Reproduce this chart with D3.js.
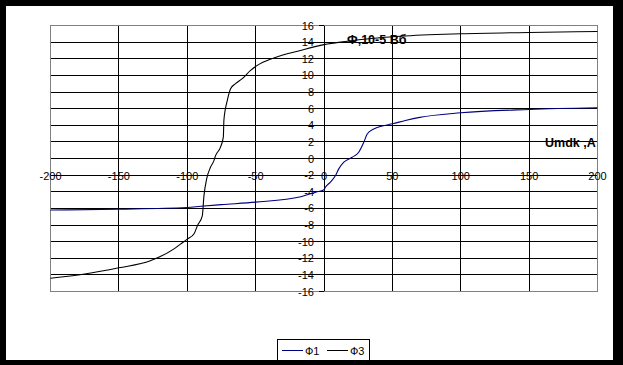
<!DOCTYPE html>
<html>
<head>
<meta charset="utf-8">
<script src="https://cdn.jsdelivr.net/npm/d3@7"></script>
<style>
    body { margin: 0; background: #000; }
    svg text { font-family: "Liberation Sans", Arial, sans-serif; }
</style>
</head>
<body>
<svg id="chart"></svg>
<script>
// Ф1 (синяя) и Ф3 (чёрная)
const uPhi1 = [-200, -150, -100, -90, -75, -50, -17, -10, -6, 0, 1, 4.7, 8.4, 10.8, 14.5, 20.6, 25.4, 29.1, 31.6, 36.4, 42.5, 50, 59.5, 70, 100, 150, 200];
const phi1 = [-6.2, -6.1, -5.9, -5.75, -5.55, -5.25, -4.6, -4.25, -4.05, -3.75, -3.45, -2.85, -2.05, -1.25, -0.45, 0.15, 0.75, 1.95, 2.95, 3.55, 3.9, 4.17, 4.57, 4.95, 5.5, 5.9, 6.1];

const uPhi3 = [-200, -175, -150, -127, -110, -105, -100, -95, -92.5, -89, -87.8, -85.8, -83, -80.5, -79.3, -75.6, -73.6, -73.2, -70.7, -68.3, -64.7, -59.8, -53.7, -48.8, -36.7, -17.2, 0, 17, 56, 100, 150, 200];
const phi3 = [-14.4, -13.9, -13.15, -12.3, -10.9, -10.3, -9.7, -9.05, -8.05, -6.9, -4.5, -2.45, -1.05, -0.25, 0.35, 1.4, 2.6, 4.6, 7.0, 8.4, 9.0, 9.6, 10.6, 11.2, 12.1, 13.0, 13.7, 14.1, 14.7, 15.0, 15.16, 15.28];

const xTicks = [-200, -150, -100, -50, 0, 50, 100, 150, 200];
const yTicks = [-16, -14, -12, -10, -8, -6, -4, -2, 0, 2, 4, 6, 8, 10, 12, 14, 16];

const seriesNames = ["Ф1", "Ф3"];
const seriesColors = ["#000080", "#000000"];

const wsvg = 623;
const hsvg = 365;

const svg = d3.select("#chart")
    .attr("width", wsvg)
    .attr("height", hsvg);

// чёрная рамка и белое поле
svg.append("rect").attr("width", wsvg).attr("height", hsvg).attr("fill", "#000");
svg.append("rect").attr("x", 6).attr("y", 6).attr("width", 607).attr("height", 354).attr("fill", "#fff");

const xScale = d3.scaleLinear([-200, 200], [50.5, 597.5]);
const yScale = d3.scaleLinear([-16, 16], [291.5, 25.5]);

// сетка
svg.append("g").selectAll("line")
    .data(yTicks)
    .join("line")
    .attr("x1", xScale(-200)).attr("x2", xScale(200))
    .attr("y1", d => Math.round(yScale(d) - 0.5) + 0.5)
    .attr("y2", d => Math.round(yScale(d) - 0.5) + 0.5)
    .attr("stroke", "#000");

svg.append("g").selectAll("line")
    .data(xTicks)
    .join("line")
    .attr("x1", d => Math.round(xScale(d) - 0.5) + 0.5)
    .attr("x2", d => Math.round(xScale(d) - 0.5) + 0.5)
    .attr("y1", yScale(-16)).attr("y2", yScale(16))
    .attr("stroke", "#000");

// серая рамка области графика
svg.append("rect")
    .attr("x", xScale(-200)).attr("y", yScale(16))
    .attr("width", xScale(200) - xScale(-200))
    .attr("height", yScale(-16) - yScale(16))
    .attr("fill", "none")
    .attr("stroke", "#808080");

// подписи осей
svg.append("g").selectAll("text")
    .data(xTicks)
    .join("text")
    .attr("x", d => xScale(d))
    .attr("y", yScale(0) + 21)
    .attr("text-anchor", "middle")
    .attr("font-size", 11)
    .text(d => d);

svg.append("g").selectAll("text")
    .data(yTicks)
    .join("text")
    .attr("x", xScale(0) - 10)
    .attr("y", d => yScale(d) + 4)
    .attr("text-anchor", "end")
    .attr("font-size", 11)
    .text(d => d);

// засечки на осях
svg.append("g").selectAll("line")
    .data(yTicks)
    .join("line")
    .attr("x1", Math.round(xScale(0)) - 5).attr("x2", Math.round(xScale(0)))
    .attr("y1", d => Math.round(yScale(d) - 0.5) + 0.5)
    .attr("y2", d => Math.round(yScale(d) - 0.5) + 0.5)
    .attr("stroke", "#000");

// кривые
const line = d3.line()
    .x(d => xScale(d[0]))
    .y(d => yScale(d[1]))
    .curve(d3.curveMonotoneX);

const allSeries = [
    d3.zip(uPhi1, phi1),
    d3.zip(uPhi3, phi3)
];

svg.append("g").selectAll("path")
    .data(allSeries)
    .join("path")
    .attr("d", line)
    .attr("fill", "none")
    .attr("stroke", (d, i) => seriesColors[i])
    .attr("stroke-width", 1.1);

// надписи
svg.append("text")
    .attr("x", 347).attr("y", 44)
    .attr("font-size", 12.5).attr("font-weight", "bold")
    .text("Ф,10-5 Вб");

svg.append("text")
    .attr("x", 545).attr("y", 147)
    .attr("font-size", 12.5).attr("font-weight", "bold")
    .text("Umdk ,A");

// легенда
const legend = svg.append("g");
legend.append("rect")
    .attr("x", 277.5).attr("y", 339.5)
    .attr("width", 92).attr("height", 21)
    .attr("fill", "#fff").attr("stroke", "#000");

const legendX = [282, 327];
seriesNames.forEach((name, i) => {
    legend.append("line")
        .attr("x1", legendX[i]).attr("x2", legendX[i] + 21)
        .attr("y1", 350.5).attr("y2", 350.5)
        .attr("stroke", seriesColors[i]);
    legend.append("text")
        .attr("x", legendX[i] + 23).attr("y", 354.5)
        .attr("font-size", 11)
        .text(name);
});
</script>
</body>
</html>
